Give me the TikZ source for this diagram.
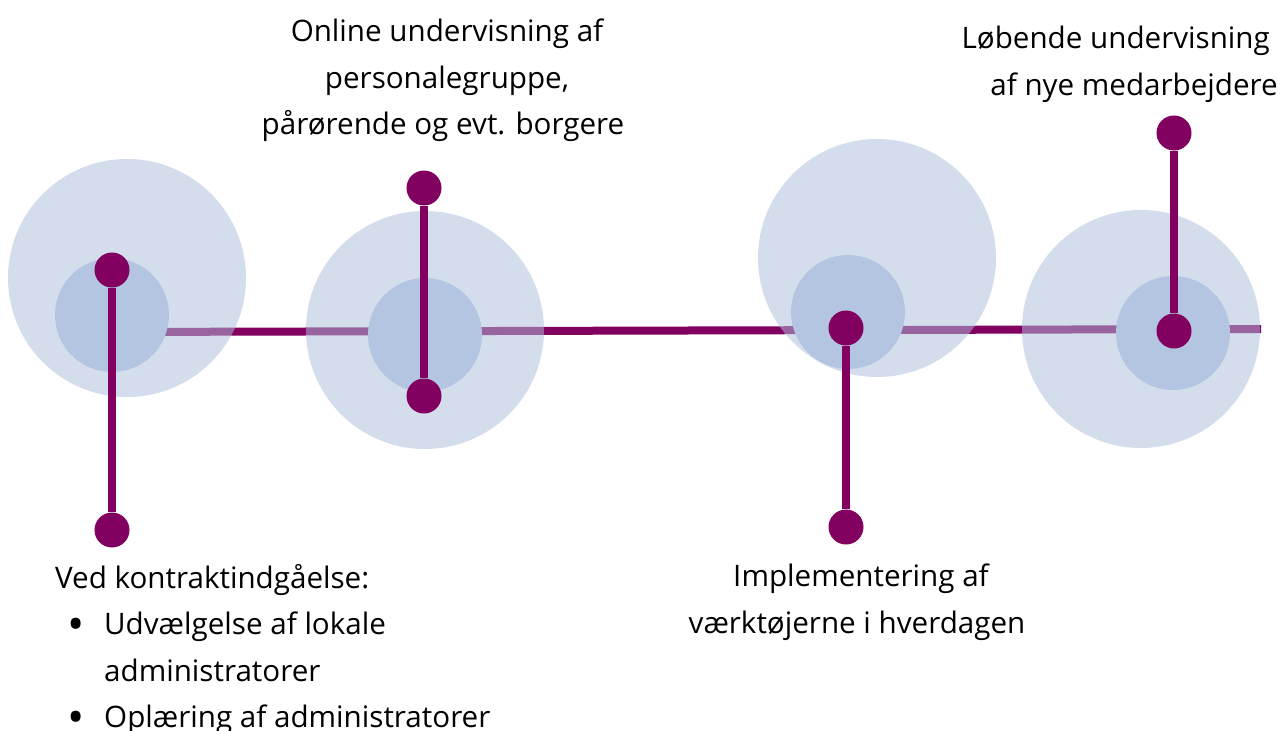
\documentclass[tikz,border=0pt]{standalone}
\usepackage{fontspec}
\setmainfont{Open Sans}
\definecolor{plum}{HTML}{820060}
\definecolor{haze}{HTML}{ADBED9}
\definecolor{core}{HTML}{B3C5E0}
\newcommand{\bigbullet}{\makebox[49pt][l]{\hspace{12pt}\raisebox{-5.5pt}{\scalebox{1.55}{•}}}}
\tikzset{
    halo/.style={circle, fill=haze, fill opacity=0.52, minimum size=238pt, inner sep=0pt},
    kernel/.style={circle, fill=core, minimum size=114pt, inner sep=0pt},
    pin/.style={circle, fill=plum, minimum size=35pt, inner sep=0pt},
    stem/.style={plum, line width=8pt},
    note/.style={font=\fontsize{29.6}{46.5}\selectfont, inner sep=0pt}
}
\begin{document}
\begin{tikzpicture}[x=1pt, y=-1pt]
            \useasboundingbox (0,0) rectangle (1280,731);

            \coordinate (start) at (112,332);
            \coordinate (end) at (1261,329);
            \draw[stem] (start) -- (end);

            \foreach \n/\x/\y in {1/127/278, 2/425/330, 3/877/258, 4/1141/329} {
                \node[halo] (halo\n) at (\x,\y) {};
            }
            \foreach \n/\x/\y in {1/112/315, 2/425/335, 3/848/312, 4/1173/333} {
                \node[kernel] (core\n) at (\x,\y) {};
            }
            \foreach \n/\x/\ya/\yb in {1/112/270/530, 2/424/188/396, 3/846/328/527, 4/1174/133/331} {
                \node[pin] (top\n) at (\x,\ya) {};
                \node[pin] (bot\n) at (\x,\yb) {};
                \draw[stem] (top\n) -- (bot\n);
            }

            \node[note, anchor=north, align=center] (online) at (447,19)
                {Online undervisning af\\personalegruppe,\\pårørende og evt. borgere\hspace*{8pt}};
            \node[note, anchor=north east, align=right] (newstaff) at (1278,26)
                {Løbende undervisning\hspace*{8pt}\\af nye medarbejdere};
            \node[note, anchor=north, align=center] (impl) at (861,564)
                {Implementering af\\værktøjerne i hverdagen\hspace*{8pt}};
            \node[note, anchor=north west, align=left] (contract) at (55,564)
                {Ved kontraktindgåelse:\\
                 \bigbullet Udvælgelse af lokale\\
                 \hspace*{49pt}administratorer\\
                 \bigbullet Oplæring af administratorer};
        \end{tikzpicture}
\end{document}
